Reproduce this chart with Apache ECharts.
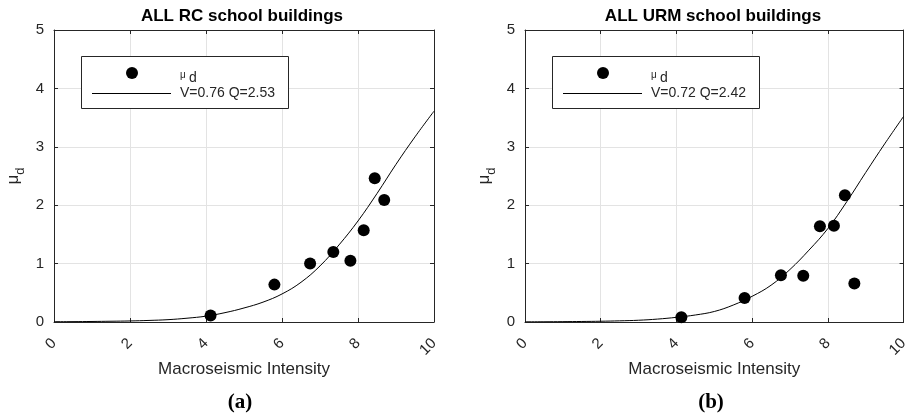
<!DOCTYPE html>
<html>
<head>
<meta charset="utf-8">
<script src="https://cdn.jsdelivr.net/npm/echarts@6/dist/echarts.min.js"></script>
<style>
  html, body { margin: 0; padding: 0; background: #fff; }
  #chart { width: 911px; height: 417px; }
</style>
</head>
<body>
<div id="chart"></div>
<script>
// Observed mean damage grade per macroseismic intensity
const intensityRC = [4.12, 5.80, 6.74, 7.35, 7.80, 8.15, 8.44, 8.69];
const muRC = [0.11, 0.64, 1.00, 1.20, 1.05, 1.57, 2.46, 2.09];

const intensityURM = [4.13, 5.80, 6.76, 7.35, 7.79, 8.16, 8.45, 8.70];
const muURM = [0.08, 0.41, 0.80, 0.79, 1.64, 1.65, 2.17, 0.66];

// Vulnerability curves sampled along the intensity axis
const curveIntensity = [0, 0.5, 1, 1.5, 2, 2.5, 3, 3.5, 4, 4.5, 5, 5.5, 6, 6.5, 7, 7.5, 8, 8.5, 9, 9.5, 10];
const curveRC = [0.005, 0.006, 0.009, 0.013, 0.018, 0.027, 0.040, 0.065, 0.10, 0.16, 0.24, 0.34, 0.48, 0.68, 0.96, 1.32, 1.73, 2.20, 2.70, 3.17, 3.61];
const curveURM = [0.003, 0.004, 0.006, 0.009, 0.013, 0.020, 0.030, 0.050, 0.08, 0.12, 0.18, 0.29, 0.44, 0.63, 0.90, 1.23, 1.60, 2.06, 2.56, 3.05, 3.52];

const titles = ['ALL RC school buildings', 'ALL URM school buildings'];
const curveLabels = ['V=0.76 Q=2.53', 'V=0.72 Q=2.42'];
const panelTags = ['(a)', '(b)'];
const xAxisTitle = 'Macroseismic Intensity';

const SANS = '"Liberation Sans", Arial, Helvetica, sans-serif';
const SERIF = '"Liberation Serif", "Times New Roman", serif';
const INK = '#262626';
const GRIDLINE = '#e3e3e3';

const panels = [
  { left: 54, width: 380 },
  { left: 525, width: 380 }
];
const TOP = 30, HEIGHT = 292;

function zip(xs, ys) { return xs.map((x, i) => [x, ys[i]]); }

const grid = [], xAxis = [], yAxis = [], series = [], title = [], graphic = [];

panels.forEach((p, i) => {
  grid.push({ left: p.left, top: TOP, width: p.width, height: HEIGHT, containLabel: false });
  const cx = p.left + p.width / 2;

  // bottom axis with labels and grid lines
  xAxis.push({
    type: 'value', gridIndex: i, position: 'bottom', min: 0, max: 10, interval: 2,
    name: xAxisTitle, nameLocation: 'middle', nameGap: 39, nameMoveOverlap: false,
    nameTextStyle: { fontFamily: SANS, fontSize: 17, color: INK },
    axisLine: { show: true, onZero: false, lineStyle: { color: INK, width: 1 } },
    axisTick: { show: true, inside: true, length: 4, lineStyle: { color: INK } },
    axisLabel: { rotate: 45, margin: 19, fontFamily: SANS, fontSize: 15, color: INK },
    splitLine: { show: true, lineStyle: { color: GRIDLINE, width: 1 } }
  });
  // top axis: box edge with inward ticks
  xAxis.push({
    type: 'value', gridIndex: i, position: 'top', min: 0, max: 10, interval: 2,
    axisLine: { show: true, onZero: false, lineStyle: { color: INK, width: 1 } },
    axisTick: { show: true, inside: true, length: 4, lineStyle: { color: INK } },
    axisLabel: { show: false }, splitLine: { show: false }
  });
  yAxis.push({
    type: 'value', gridIndex: i, position: 'left', min: 0, max: 5, interval: 1,
    name: '{m|μ}{s|d}', nameLocation: 'middle', nameGap: 27, nameRotate: 90,
    nameTextStyle: {
      color: INK,
      rich: {
        m: { fontFamily: SANS, fontSize: 17, color: INK, lineHeight: 22, verticalAlign: 'top' },
        s: { fontFamily: SANS, fontSize: 13, color: INK, lineHeight: 22, verticalAlign: 'bottom' }
      }
    },
    axisLine: { show: true, onZero: false, lineStyle: { color: INK, width: 1 } },
    axisTick: { show: true, inside: true, length: 4, lineStyle: { color: INK } },
    axisLabel: { margin: 10, fontFamily: SANS, fontSize: 15, color: INK },
    splitLine: { show: true, lineStyle: { color: GRIDLINE, width: 1 } }
  });
  yAxis.push({
    type: 'value', gridIndex: i, position: 'right', min: 0, max: 5, interval: 1,
    axisLine: { show: true, onZero: false, lineStyle: { color: INK, width: 1 } },
    axisTick: { show: true, inside: true, length: 4, lineStyle: { color: INK } },
    axisLabel: { show: false }, splitLine: { show: false }
  });

  const obsX = i === 0 ? intensityRC : intensityURM;
  const obsY = i === 0 ? muRC : muURM;
  const curve = i === 0 ? curveRC : curveURM;

  series.push({
    type: 'line', name: curveLabels[i], xAxisIndex: 2 * i, yAxisIndex: 2 * i,
    data: zip(curveIntensity, curve), smooth: 0.4,
    showSymbol: false, lineStyle: { color: '#000', width: 1 }, z: 2, silent: true
  });
  series.push({
    type: 'scatter', name: 'μd', xAxisIndex: 2 * i, yAxisIndex: 2 * i,
    data: zip(obsX, obsY), symbol: 'circle', symbolSize: 12,
    itemStyle: { color: '#000', opacity: 1 }, z: 3
  });

  title.push({
    text: titles[i], left: cx - 2, top: 8, textAlign: 'center', padding: 0,
    textStyle: { fontFamily: SANS, fontSize: 17, fontWeight: 'bold', color: '#000' }
  });

  // legend box
  const lx = p.left + 27;
  graphic.push(
    { type: 'rect', z: 100, shape: { x: lx + 0.5, y: 56.5, width: 207, height: 52 },
      style: { fill: '#fff', stroke: INK, lineWidth: 1 } },
    { type: 'circle', z: 101, shape: { cx: lx + 51, cy: 73, r: 6 }, style: { fill: '#000' } },
    { type: 'line', z: 101, shape: { x1: lx + 11, y1: 93.5, x2: lx + 90, y2: 93.5 },
      style: { stroke: '#000', lineWidth: 1 } },
    { type: 'text', z: 101, x: lx + 99, y: 75, style: { text: 'μ', fontFamily: SANS, fontSize: 10,
      fill: INK, align: 'left', verticalAlign: 'middle' } },
    { type: 'text', z: 101, x: lx + 108, y: 78, style: { text: 'd', fontFamily: SANS, fontSize: 14,
      fill: INK, align: 'left', verticalAlign: 'middle' } },
    { type: 'text', z: 101, x: lx + 99, y: 93, style: { text: curveLabels[i], fontFamily: SANS, fontSize: 14,
      fill: INK, align: 'left', verticalAlign: 'middle' } },
    { type: 'text', z: 101, x: cx - 4, y: 403,
      style: { text: panelTags[i], fontFamily: SERIF, fontSize: 21, fontWeight: 'bold',
               fill: '#000', align: 'center', verticalAlign: 'middle' } }
  );
});

const chart = echarts.init(document.getElementById('chart'), null, { renderer: 'canvas' });
chart.setOption({
  animation: false,
  backgroundColor: '#fff',
  title, grid, xAxis, yAxis, series, graphic
});
</script>
</body>
</html>
